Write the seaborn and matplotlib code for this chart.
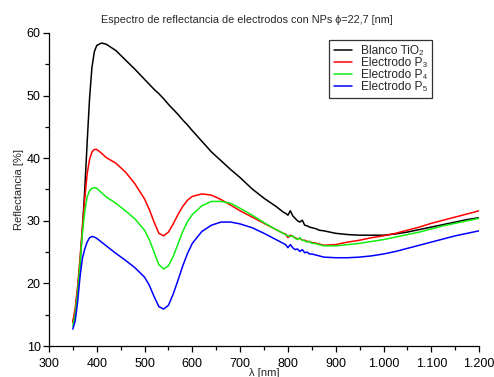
import numpy as np
import pandas as pd
import matplotlib
matplotlib.use("Agg")
import matplotlib.pyplot as plt
import seaborn as sns

# Wavelengths [nm] and reflectance [%] of each electrode
wavelength = [350, 355, 360, 365, 370, 375, 380, 385, 390, 395, 400, 410, 420,
              440, 460, 480, 500, 510, 520, 530, 540, 550, 560, 570, 580, 590,
              600, 620, 640, 660, 680, 700, 725, 750, 775, 790, 795, 800, 805,
              810, 815, 820, 825, 830, 835, 840, 845, 850, 855, 860, 865, 875,
              900, 925, 950, 975, 1000, 1025, 1050, 1075, 1100, 1125, 1150,
              1175, 1200]

blanco_tio2 = [13.8, 15.5, 19.0, 23.0, 28.5, 35.0, 42.5, 49.5, 54.5, 57.0, 58.0,
               58.4, 58.2, 57.2, 55.7, 54.2, 52.6, 51.8, 51.0, 50.3, 49.5, 48.6,
               47.8, 47.0, 46.1, 45.3, 44.4, 42.7, 41.0, 39.6, 38.2, 36.9, 35.1,
               33.6, 32.3, 31.4, 31.2, 30.9, 31.6, 30.8, 30.4, 30.0, 29.8, 30.1,
               29.3, 29.2, 29.0, 28.9, 28.8, 28.7, 28.5, 28.4, 28.0, 27.8, 27.7,
               27.7, 27.7, 27.9, 28.2, 28.6, 29.0, 29.4, 29.8, 30.2, 30.5]

electrodo_p3 = [13.8, 16.0, 19.5, 24.0, 29.0, 33.5, 37.5, 39.8, 41.0, 41.4, 41.4,
                40.8, 40.1, 39.2, 37.8, 35.9, 33.5, 31.8, 29.8, 28.0, 27.6, 28.2,
                29.5, 31.0, 32.3, 33.3, 33.9, 34.3, 34.1, 33.4, 32.5, 31.6, 30.6,
                29.6, 28.6, 28.0, 27.9, 27.3, 27.7, 27.5, 27.3, 27.1, 27.2, 26.9,
                26.9, 26.7, 26.7, 26.5, 26.5, 26.4, 26.3, 26.1, 26.2, 26.6, 26.9,
                27.3, 27.6, 28.0, 28.5, 29.0, 29.6, 30.1, 30.6, 31.1, 31.6]

electrodo_p4 = [13.2, 15.0, 18.5, 23.0, 28.0, 31.5, 33.8, 34.8, 35.2, 35.3, 35.2,
                34.5, 33.8, 32.8, 31.6, 30.3, 28.5, 27.0, 25.0, 23.0, 22.3, 22.8,
                24.3, 26.3, 28.3, 29.9, 31.0, 32.4, 33.1, 33.1, 32.8, 32.0, 30.9,
                29.7, 28.6, 28.0, 27.8, 27.6, 27.5, 27.6, 27.2, 27.0, 27.3, 26.9,
                26.8, 26.6, 26.7, 26.4, 26.4, 26.3, 26.2, 26.0, 26.0, 26.2, 26.4,
                26.7, 27.0, 27.4, 27.8, 28.2, 28.7, 29.2, 29.6, 30.0, 30.4]

electrodo_p5 = [12.7, 14.0, 17.0, 21.0, 24.0, 25.5, 26.6, 27.3, 27.5, 27.4, 27.2,
                26.6, 26.0, 24.8, 23.7, 22.5, 21.0, 19.7, 17.9, 16.3, 15.9, 16.5,
                18.3, 20.5, 22.8, 24.8, 26.4, 28.3, 29.3, 29.8, 29.8, 29.5, 28.9,
                28.0, 27.0, 26.4, 26.2, 25.7, 26.2, 25.7, 25.4, 25.5, 25.1, 25.4,
                24.9, 25.0, 24.7, 24.7, 24.6, 24.5, 24.4, 24.2, 24.1, 24.1, 24.2,
                24.4, 24.7, 25.1, 25.6, 26.1, 26.6, 27.1, 27.6, 28.0, 28.4]

series_names = ["Blanco TiO₂", "Electrodo P₃", "Electrodo P₄", "Electrodo P₅"]
series_colors = ["#000000", "#ff0000", "#11ee11", "#0000ff"]

x_ticks = [300, 400, 500, 600, 700, 800, 900, 1000, 1100, 1200]
x_tick_labels = ["300", "400", "500", "600", "700", "800", "900",
                 "1.000", "1.100", "1.200"]
y_ticks = [10, 20, 30, 40, 50, 60]

frames = []
for name, values in zip(series_names,
                        [blanco_tio2, electrodo_p3, electrodo_p4, electrodo_p5]):
    frames.append(pd.DataFrame({"wl": wavelength, "R": values, "serie": name}))
df = pd.concat(frames, ignore_index=True)

sns.set_style("ticks")
plt.rcParams["font.family"] = ["Liberation Sans", "DejaVu Sans"]

fig = plt.figure(figsize=(4.94, 3.77), dpi=100)
ax = fig.add_axes([0.099, 0.0822, 0.871, 0.8303])

sns.lineplot(data=df, x="wl", y="R", hue="serie", palette=series_colors,
             hue_order=series_names, linewidth=1.1, ax=ax, sort=False,
             estimator=None)

ax.set_xlim(300, 1200)
ax.set_ylim(10, 60)
ax.set_xticks(x_ticks)
ax.set_xticklabels(x_tick_labels)
ax.set_xticks(np.arange(350, 1200, 100), minor=True)
ax.set_yticks(y_ticks)
ax.set_yticks(np.arange(15, 60, 10), minor=True)
ax.tick_params(axis="both", which="major", length=4.5, width=0.9,
               labelsize=9, color="black", labelcolor="black")
ax.tick_params(axis="x", which="major", pad=4)
ax.tick_params(axis="y", which="major", pad=1.5)
ax.tick_params(axis="both", which="minor", length=3, width=0.9, color="black")

for side in ["top", "right"]:
    ax.spines[side].set_visible(False)
for side in ["left", "bottom"]:
    ax.spines[side].set_linewidth(0.9)
    ax.spines[side].set_color("black")

ax.set_xlabel("λ [nm]", fontsize=8, labelpad=-1)
ax.set_ylabel("Reflectancia [%]", fontsize=8, labelpad=1.5)

fig.text(0.5, 0.94, "Espectro de reflectancia de electrodos con NPs ϕ=22,7 [nm]",
         ha="center", va="baseline", fontsize=7.8)

leg = ax.legend(loc="upper right", bbox_to_anchor=(0.891, 0.978),
                fontsize=8.6, frameon=True, fancybox=False, handlelength=1.5,
                handletextpad=0.75, borderpad=0.42, labelspacing=0.0,
                borderaxespad=0)
leg.get_frame().set_edgecolor("black")
leg.get_frame().set_linewidth(0.9)
leg.set_title(None)

fig.savefig("out.png", dpi=100)
